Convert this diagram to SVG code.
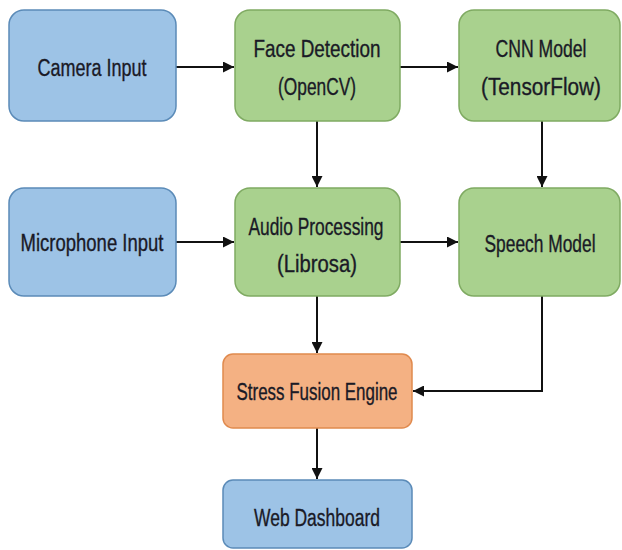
<svg xmlns="http://www.w3.org/2000/svg" width="622" height="550" viewBox="0 0 622 550">
<defs>
<style>
.blue{fill:#9dc3e6;stroke:#5b8bb8;stroke-width:1.5}
.green{fill:#a9d18e;stroke:#7faa62;stroke-width:1.5}
.orange{fill:#f4b183;stroke:#e08a4e;stroke-width:1.5}
text{font-family:"Liberation Sans",Arial,sans-serif;font-size:23.5px;fill:#1a1a26;stroke:#1a1a26;stroke-width:0.35;text-anchor:middle}
.conn{fill:none;stroke:#111;stroke-width:2}
</style>
<marker id="ah" viewBox="0 0 10 10" refX="10" refY="5" markerWidth="6" markerHeight="5.5" orient="auto" markerUnits="strokeWidth">
<path d="M0,0 L10,5 L0,10 z" fill="#111"/>
</marker>
</defs>
<rect width="622" height="550" fill="#fff"/>
<g id="connectors">
<line class="conn" x1="176" y1="67" x2="234" y2="67" marker-end="url(#ah)"/>
<line class="conn" x1="400" y1="67" x2="458" y2="67" marker-end="url(#ah)"/>
<line class="conn" x1="317" y1="121" x2="317" y2="187" marker-end="url(#ah)"/>
<line class="conn" x1="542" y1="121" x2="542" y2="187" marker-end="url(#ah)"/>
<line class="conn" x1="176" y1="242" x2="234" y2="242" marker-end="url(#ah)"/>
<line class="conn" x1="400" y1="242" x2="458" y2="242" marker-end="url(#ah)"/>
<line class="conn" x1="317" y1="296" x2="317" y2="353" marker-end="url(#ah)"/>
<polyline class="conn" points="542,296 542,391 413,391" marker-end="url(#ah)"/>
<line class="conn" x1="317" y1="428" x2="317" y2="479" marker-end="url(#ah)"/>
</g>
<g id="camera">
<rect class="blue" x="9" y="10" width="167" height="111" rx="15"/>
<text x="92" y="76" textLength="109" lengthAdjust="spacingAndGlyphs">Camera Input</text>
</g>
<g id="face">
<rect class="green" x="235" y="10" width="165" height="111" rx="15"/>
<text x="317" y="57" textLength="127" lengthAdjust="spacingAndGlyphs">Face Detection</text>
<text x="317" y="95" textLength="78" lengthAdjust="spacingAndGlyphs">(OpenCV)</text>
</g>
<g id="cnn">
<rect class="green" x="459" y="10" width="161" height="111" rx="15"/>
<text x="541" y="57" textLength="91" lengthAdjust="spacingAndGlyphs">CNN Model</text>
<text x="541" y="95" textLength="120" lengthAdjust="spacingAndGlyphs">(TensorFlow)</text>
</g>
<g id="mic">
<rect class="blue" x="9" y="188" width="167" height="108" rx="15"/>
<text x="92" y="251" textLength="143" lengthAdjust="spacingAndGlyphs">Microphone Input</text>
</g>
<g id="audio">
<rect class="green" x="235" y="188" width="165" height="108" rx="15"/>
<text x="316" y="235" textLength="135" lengthAdjust="spacingAndGlyphs">Audio Processing</text>
<text x="317" y="272" textLength="80" lengthAdjust="spacingAndGlyphs">(Librosa)</text>
</g>
<g id="speech">
<rect class="green" x="459" y="188" width="161" height="108" rx="15"/>
<text transform="translate(540,252) scale(0.739,1)" x="0" y="0">Speech Model</text>
</g>
<g id="fusion">
<rect class="orange" x="223" y="354" width="189" height="74" rx="10"/>
<text x="317" y="400" textLength="161" lengthAdjust="spacingAndGlyphs">Stress Fusion Engine</text>
</g>
<g id="dashboard">
<rect class="blue" x="223" y="480" width="189" height="68" rx="10"/>
<text x="317" y="526" textLength="126" lengthAdjust="spacingAndGlyphs">Web Dashboard</text>
</g>
</svg>
